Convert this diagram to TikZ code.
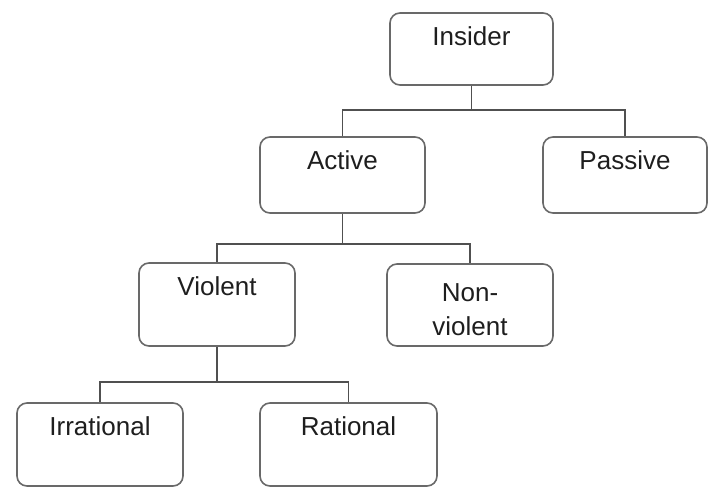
\documentclass[tikz,border=0pt]{standalone}
\usepackage{fontspec}
\setmainfont{Liberation Sans}
\definecolor{boxgray}{RGB}{105, 105, 105}
\definecolor{linegray}{RGB}{80, 80, 80}
\definecolor{textdark}{RGB}{30, 30, 30}
\usetikzlibrary{positioning, calc}

\begin{document}
\begin{tikzpicture}[x=0.5pt, y=-0.5pt,
    box/.style={draw=boxgray, line width=0.8pt, rounded corners=5pt,
                minimum width=82pt, minimum height=38pt, inner sep=0pt},
    lbl/.style={anchor=north, inner sep=0pt, yshift=-7pt, align=center,
                font=\fontsize{13}{17}\selectfont, text=textdark},
    link/.style={draw=linegray, line width=0.8pt}
  ]
    \useasboundingbox (0,0) rectangle (710,487);

    % boxes, top to bottom
    \node[box, minimum width=81.5pt, minimum height=36pt,
          label={[lbl, name=insidertext]north:Insider}] (insider) at (471.5,49) {};
    \node[box, minimum width=82.5pt,
          label={[lbl, name=activetext]north:Active}] (active) at (342.5,175) {};
    \node[box, label={[lbl, name=passivetext]north:Passive}] (passive) at (625,175) {};
    \node[box, minimum width=78pt, minimum height=41.5pt,
          label={[lbl, name=violenttext]north:Violent}] (violent) at (217,304.5) {};
    \node[box, minimum width=83pt, minimum height=41pt,
          label={[lbl, yshift=-3pt, name=nonviolenttext]north:Non-\\violent}] (nonviolent) at (470,305) {};
    \node[box, minimum width=83pt, minimum height=41.5pt,
          label={[lbl, name=irrationaltext]north:Irrational}] (irrational) at (100,444.5) {};
    \node[box, minimum width=88.5pt, minimum height=41.5pt,
          label={[lbl, name=rationaltext]north:Rational}] (rational) at (348.5,444.5) {};

    % branch levels
    \coordinate (bus1) at (0,110);
    \coordinate (bus2) at (0,244);
    \coordinate (bus3) at (0,382);

    \draw[link] (insider.south) -- (insider.south |- bus1);
    \draw[link] (active.north) -- (active.north |- bus1)
      -- (passive.north |- bus1) -- (passive.north);

    \draw[link] (active.south) -- (active.south |- bus2);
    \draw[link] (violent.north) -- (violent.north |- bus2)
      -- (nonviolent.north |- bus2) -- (nonviolent.north);

    \draw[link] (violent.south) -- (violent.south |- bus3);
    \draw[link] (irrational.north) -- (irrational.north |- bus3)
      -- (rational.north |- bus3) -- (rational.north);
  \end{tikzpicture}
\end{document}
